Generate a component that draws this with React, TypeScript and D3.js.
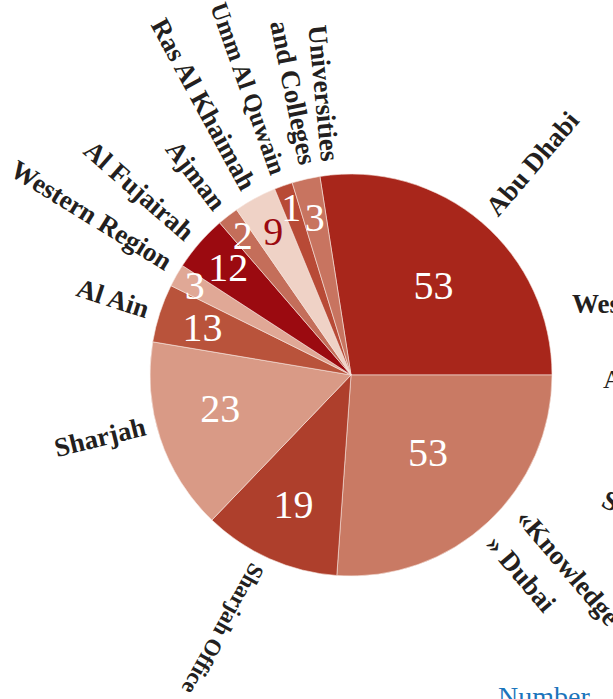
import React from 'react';
import * as d3 from 'd3';

// ---- data ----
const categories = [
  'Abu Dhabi', 'Dubai', 'Sharjah Office', 'Sharjah', 'Al Ain', 'Western Region',
  'Al Fujairah', 'Ajman', 'Ras Al Khaimah', 'Umm Al Quwain', 'Universities and Colleges',
];
const labelLines: string[][] = [
  ['Abu Dhabi'], ['«Knowledge', '» Dubai'], ['Sharjah Office'], ['Sharjah'], ['Al Ain'],
  ['Western Region'], ['Al Fujairah'], ['Ajman'], ['Ras Al Khaimah'], ['Umm Al Quwain'],
  ['Universities', 'and Colleges'],
];
const counts = [53, 53, 19, 23, 13, 3, 12, 2, 9, 1, 3];
// slice sizes as drawn in the picture (degrees of the circle)
const sliceShare = [98.9, 94.05, 39.75, 55.7, 16.9, 6.6, 16.2, 6.1, 12.4, 5.3, 8.1];

// ---- styles / layout ----
const colors = [
  '#a8261b', '#c97a64', '#ae3f2c', '#d99a86', '#b9533b', '#e0a896',
  '#9b0a10', '#c46e5a', '#efd2c6', '#b84a36', '#c87460',
];
const valueColors = ['#fff', '#fff', '#fff', '#fff', '#fff', '#fff', '#fff', '#fff', '#9b0a10', '#fff', '#fff'];
const valueRadius = [122, 109, 142, 135, 156, 180, 163, 177, 163, 178, 162];
const valueAngleNudge = [2, -2, 0, 4, 0, 0, 0, 0, 0, 0, 0];
// outer label tweaks: position angle nudge, extra rotation, radius, font size
const labelAngleNudge = [0, -3, 2, 4.5, 0, 2, 0, 0, 0, 0, 0];
const labelRotNudge = [0, 5.5, 3, 0, 0, 0, 0, 0, 0, 0, 0];
const labelRadius = [215, 217, 212, 212, 213, 213, 213, 213, 213, 214, 215];
const labelFont = [27, 27, 23, 27, 27, 27, 27, 27, 27, 25, 27];
// multi-line labels: perpendicular shift (px) or own radial angle (deg) per line
const lineShift: number[][] = [[0], [-20, 20], [0], [0], [0], [0], [0], [0], [0], [0], [0, 0]];
const lineAngle: number[][] = [[0], [0, 0], [0], [0], [0], [0], [0], [0], [0], [0], [7.5, 1.5]];

const W = 613;
const H = 699;
const cx = 351;
const cy = 375;
const R = 201;
const startDeg = -8.9;

const rad = (d: number) => (d * Math.PI) / 180;
const deg = (r: number) => (r * 180) / Math.PI;

export default function App() {
  const pie = d3
    .pie<number>()
    .value((d) => d)
    .sort(null)
    .startAngle(rad(startDeg))
    .endAngle(rad(startDeg) + 2 * Math.PI);
  const arcs = pie(sliceShare);
  const arc = d3.arc<d3.PieArcDatum<number>>().innerRadius(0).outerRadius(R);

  const serif = "'Liberation Serif', 'Times New Roman', serif";

  const polar = (aDeg: number, r: number) => d3.pointRadial(rad(aDeg), r);

  return (
    <svg
      width={W}
      height={H}
      style={{ position: 'absolute', left: 0, top: 0, background: '#fff' }}
    >
      <g transform={`translate(${cx},${cy})`}>
        {arcs.map((a, i) => (
          <path key={categories[i]} d={arc(a) || ''} fill={colors[i]} stroke="#f6e6df" strokeWidth={0.6} />
        ))}
        {arcs.map((a, i) => {
          const mid = deg((a.startAngle + a.endAngle) / 2) + valueAngleNudge[i];
          const [x, y] = polar(mid, valueRadius[i]);
          return (
            <text
              key={'v' + i}
              x={x}
              y={y}
              dy="0.34em"
              textAnchor="middle"
              fontFamily={serif}
              fontSize={40}
              fill={valueColors[i]}
            >
              {counts[i]}
            </text>
          );
        })}
        {arcs.map((a, i) => {
          const mid = deg((a.startAngle + a.endAngle) / 2) + labelAngleNudge[i];
          const lines = labelLines[i];
          return lines.map((t, j) => {
            const ang = mid + lineAngle[i][j];
            const m = ((ang % 360) + 360) % 360;
            const outward = m < 225;
            const rot = (outward ? m - 90 : m + 90) + labelRotNudge[i];
            const [x, y] = polar(ang, labelRadius[i]);
            return (
              <text
                key={'l' + i + '-' + j}
                transform={`translate(${x},${y}) rotate(${rot})`}
                textAnchor={outward ? 'start' : 'end'}
                fontFamily={serif}
                fontWeight="bold"
                fontSize={labelFont[i]}
                fill="#231f20"
                x={0}
                y={lineShift[i][j]}
                dy="0.35em"
              >
                {t}
              </text>
            );
          });
        })}
      </g>
      {/* fragments of the neighbouring chart, cut by the picture's edge */}
      <text x={572} y={313} fontFamily={serif} fontWeight="bold" fontSize={27} fill="#231f20">
        Western Region
      </text>
      <text x={603} y={388} fontFamily={serif} fontSize={26} fill="#231f20">
        Al Ain
      </text>
      <text
        transform="translate(600,506) rotate(25)"
        fontFamily={serif}
        fontWeight="bold"
        fontSize={27}
        fill="#231f20"
      >
        Sharjah
      </text>
      <text x={498} y={706} fontFamily={serif} fontSize={28} fill="#1b75bc">
        Number
      </text>
    </svg>
  );
}
